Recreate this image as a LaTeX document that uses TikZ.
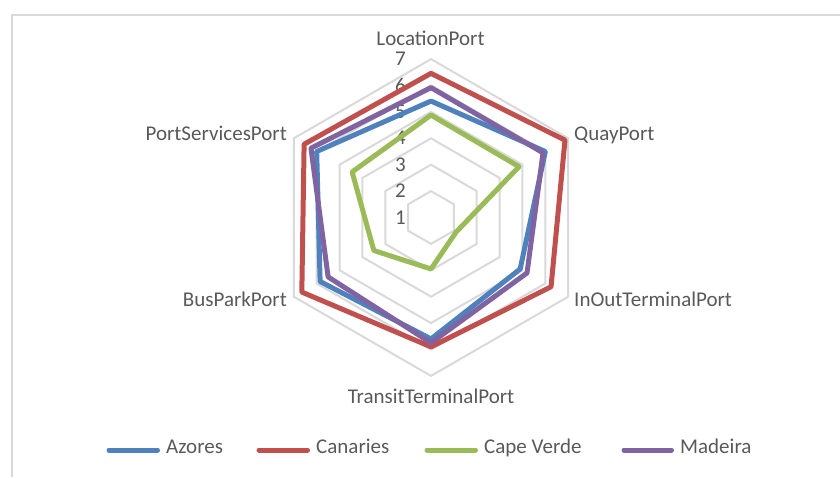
\documentclass[tikz,border=0pt]{standalone}
\usepackage{fontspec}
\setmainfont{Carlito}
\definecolor{azoresblue}{HTML}{4F81BD}
\definecolor{canariesred}{HTML}{C0504D}
\definecolor{capeverdegreen}{HTML}{9BBB59}
\definecolor{madeirapurple}{HTML}{8064A2}
\definecolor{gridgray}{HTML}{D9D9D9}
\definecolor{textgray}{HTML}{595959}
\newcommand{\radunit}{26.4}
\newcommand{\seriesgen}[3]{
  \foreach \val [count=\i] in {#3}
    \coordinate (#1-\i) at ({150-60*\i}:{(\val-1)*\radunit});
  \draw[series,#2] (#1-1) -- (#1-2) -- (#1-3) -- (#1-4) -- (#1-5) -- (#1-6) -- cycle;
}

\begin{document}
\begin{tikzpicture}[
  x=1pt,y=1pt,
  every node/.style={text=textgray,font=\fontsize{21}{25}\selectfont,
    inner sep=0pt,text height=0.64em,text depth=0pt},
  gridline/.style={draw=gridgray,line width=2pt},
  series/.style={line width=5pt,line join=round},
  legline/.style={line width=5pt,line cap=round},
  legtext/.style={anchor=west,inner xsep=6pt},
  ]
  \useasboundingbox (0,0) rectangle (840,477);
  \draw[gridline] (12,0) -- (12,461.5) -- (840,461.5);
  \begin{scope}[shift={(431,259.5)}]
    % rings
    \foreach \k in {2,...,7}
      \draw[gridline] (90:{(\k-1)*\radunit})
        \foreach \a in {30,-30,-90,210,150}{ -- (\a:{(\k-1)*\radunit}) } -- cycle;
    \foreach \k in {1,...,7}
      \node[anchor=east] (tick\k) at (-25,{(\k-1)*\radunit-3.5}) {\k};
    \seriesgen{az}{azoresblue}{5.41,6.0,4.9,5.6,5.85,6.0}
    \seriesgen{ca}{canariesred}{6.46,6.86,6.25,5.9,6.65,6.55}
    \seriesgen{cv}{capeverdegreen}{4.88,4.85,2.1,2.95,3.5,4.45}
    \seriesgen{ma}{madeirapurple}{5.92,5.9,5.2,5.75,5.5,6.25}
    % axis names
    \node (location) at (-0.5,175.5) {LocationPort};
    \node[anchor=west] (quay) at (143,80.5) {QuayPort};
    \node[anchor=west] (inout) at (143,-85.5) {InOutTerminalPort};
    \node (transit) at (0,-183) {TransitTerminalPort};
    \node[anchor=east] (buspark) at (-144,-85.5) {BusParkPort};
    \node[anchor=east] (services) at (-144,80.5) {PortServicesPort};
  \end{scope}
  % legend
  \node[legtext] (legaz) at (160,27) {Azores};
  \node[legtext] (legca) at (310,27) {Canaries};
  \node[legtext] (legcv) at (478,27) {Cape Verde};
  \node[legtext] (legma) at (674,27) {Madeira};
  \coordinate (keyaz) at (109,27);
  \coordinate (keyca) at (259,27);
  \coordinate (keycv) at (427,27);
  \coordinate (keyma) at (624,27);
  \draw[legline,azoresblue] (keyaz) -- ([xshift=-2.5]legaz.west);
  \draw[legline,canariesred] (keyca) -- ([xshift=-2.5]legca.west);
  \draw[legline,capeverdegreen] (keycv) -- ([xshift=-2.5]legcv.west);
  \draw[legline,madeirapurple] (keyma) -- ([xshift=-2.5]legma.west);
\end{tikzpicture}
\end{document}
